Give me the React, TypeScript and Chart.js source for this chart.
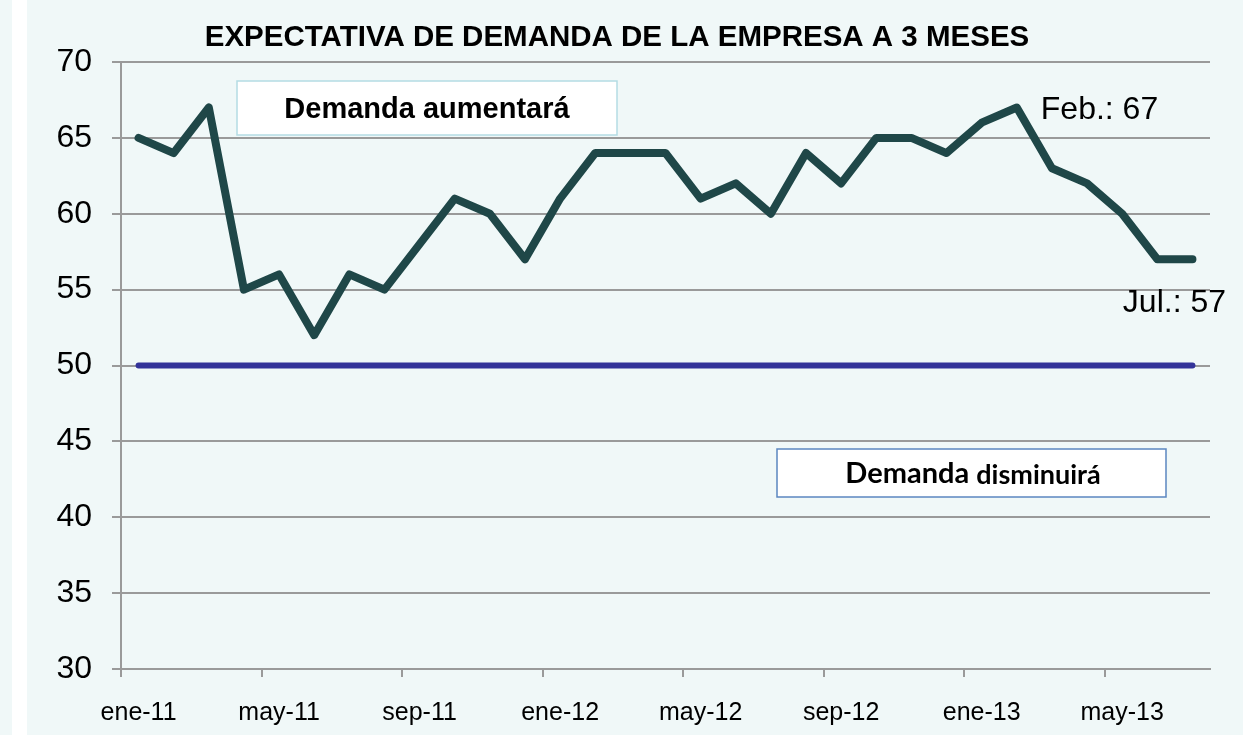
import React, { useEffect, useRef } from "react";
import { Chart, registerables } from "chart.js";

Chart.register(...registerables);

const months = [
  "ene-11", "feb-11", "mar-11", "abr-11", "may-11", "jun-11", "jul-11", "ago-11", "sep-11", "oct-11", "nov-11", "dic-11",
  "ene-12", "feb-12", "mar-12", "abr-12", "may-12", "jun-12", "jul-12", "ago-12", "sep-12", "oct-12", "nov-12", "dic-12",
  "ene-13", "feb-13", "mar-13", "abr-13", "may-13", "jun-13", "jul-13",
];

const demandExpectation = [
  65, 64, 67, 55, 56, 52, 56, 55, 58, 61, 60, 57,
  61, 64, 64, 64, 61, 62, 60, 64, 62, 65, 65, 64,
  66, 67, 63, 62, 60, 57, 57,
];

const threshold = months.map(() => 50);

const yTicks = [30, 35, 40, 45, 50, 55, 60, 65, 70];

const titleText = "EXPECTATIVA DE DEMANDA DE LA EMPRESA A 3 MESES";
const pointLabels = [
  { index: 25, text: "Feb.: 67", pos: "right" },
  { index: 30, text: "Jul.: 57", pos: "below" },
];

const GRID = "#9a9a9a";
const AXIS_FONT = "'Liberation Sans', Arial, sans-serif";

const overlayPlugin = {
  id: "overlay",
  afterDatasetsDraw(chart: any) {
    const ctx = chart.ctx as CanvasRenderingContext2D;
    ctx.save();
    // Title
    ctx.fillStyle = "#000";
    ctx.font = `bold 29.5px ${AXIS_FONT}`;
    ctx.textAlign = "center";
    ctx.textBaseline = "middle";
    ctx.fillText(titleText, 617, 38);

    // Box: Demanda aumentará
    ctx.fillStyle = "#ffffff";
    ctx.fillRect(237, 81, 380, 54);
    ctx.strokeStyle = "#b4dce4";
    ctx.lineWidth = 1.5;
    ctx.strokeRect(237, 81, 380, 54);
    ctx.fillStyle = "#000";
    ctx.font = `bold 29px ${AXIS_FONT}`;
    ctx.fillText("Demanda aumentará", 427, 110);

    // Box: Demanda disminuirá
    ctx.fillStyle = "#ffffff";
    ctx.fillRect(777, 449, 389, 48);
    ctx.strokeStyle = "#5b86c0";
    ctx.lineWidth = 1.5;
    ctx.strokeRect(777, 449, 389, 48);
    ctx.fillStyle = "#000";
    ctx.textAlign = "left";
    const f1 = "bold 29px Lato, 'Open Sans', sans-serif";
    const f2 = "bold 27px Lato, 'Open Sans', sans-serif";
    ctx.font = f1;
    const w1 = ctx.measureText("Demanda ").width;
    ctx.font = f2;
    const w2 = ctx.measureText("disminuirá").width;
    const sx = 973 - (w1 + w2) / 2;
    ctx.font = f1;
    ctx.fillText("Demanda ", sx, 474);
    ctx.font = f2;
    ctx.fillText("disminuirá", sx + w1, 475);

    // Point labels
    const meta = chart.getDatasetMeta(0);
    ctx.font = `32px ${AXIS_FONT}`;
    pointLabels.forEach((pl) => {
      const pt = meta.data[pl.index];
      if (!pt) return;
      if (pl.pos === "right") {
        ctx.textAlign = "left";
        ctx.fillText(pl.text, pt.x + 24, pt.y + 3);
      } else {
        ctx.textAlign = "center";
        ctx.fillText(pl.text, pt.x - 18, pt.y + 44);
      }
    });
    ctx.restore();
  },
};

export default function App() {
  const canvasRef = useRef<HTMLCanvasElement | null>(null);

  useEffect(() => {
    if (!canvasRef.current) return;
    const chart = new Chart(canvasRef.current, {
      type: "line",
      data: {
        labels: months,
        datasets: [
          {
            label: "Expectativa",
            data: demandExpectation,
            borderColor: "#1f4748",
            borderWidth: 8,
            pointRadius: 0,
            borderJoinStyle: "round",
            borderCapStyle: "round",
            tension: 0,
          },
          {
            label: "Umbral",
            data: threshold,
            borderColor: "#333399",
            borderWidth: 6,
            pointRadius: 0,
            borderCapStyle: "round",
            tension: 0,
          },
        ],
      },
      options: {
        responsive: false,
        animation: false,
        layout: { padding: { left: 0, right: 40, top: 62, bottom: 0 } },
        plugins: {
          legend: { display: false },
          tooltip: { enabled: false },
          title: { display: false },
        },
        scales: {
          x: {
            type: "category",
            offset: true,
            grid: {
              offset: true,
              drawOnChartArea: false,
              drawTicks: true,
              tickLength: 8,
              lineWidth: 2,
              color: (c: any) => (c.index !== undefined && c.index % 4 === 0 ? GRID : "rgba(0,0,0,0)"),
            },
            border: { display: true, color: GRID, width: 2 },
            ticks: {
              autoSkip: false,
              maxRotation: 0,
              minRotation: 0,
              padding: 21,
              color: "#000",
              font: { family: AXIS_FONT, size: 25 },
              callback: (_v: any, i: number) => (i % 4 === 0 ? months[i] : ""),
            },
            afterFit: (s: any) => {
              s.height = 66;
            },
          },
          y: {
            min: 30,
            max: 70,
            afterBuildTicks: (s: any) => {
              s.ticks = yTicks.map((v) => ({ value: v }));
            },
            grid: {
              color: GRID,
              lineWidth: 2,
              tickLength: 9,
            },
            border: { display: true, color: GRID, width: 2 },
            ticks: {
              padding: 20,
              color: "#000",
              font: { family: AXIS_FONT, size: 32 },
            },
            afterFit: (s: any) => {
              s.width = 121;
            },
          },
        },
      },
      plugins: [overlayPlugin],
    });
    return () => chart.destroy();
  }, []);

  return (
    <div style={{ position: "fixed", left: 0, top: 0, width: 1250, height: 735, background: "#ffffff", overflow: "hidden" }}>
      <div style={{ position: "absolute", left: 0, top: 0, width: 12, height: 735, background: "#f0f8f8" }} />
      <div style={{ position: "absolute", left: 27, top: 0, width: 1216, height: 735, background: "#f0f8f8" }} />
      <canvas ref={canvasRef} width={1250} height={735} style={{ position: "absolute", left: 0, top: 0, width: 1250, height: 735 }} />
    </div>
  );
}
